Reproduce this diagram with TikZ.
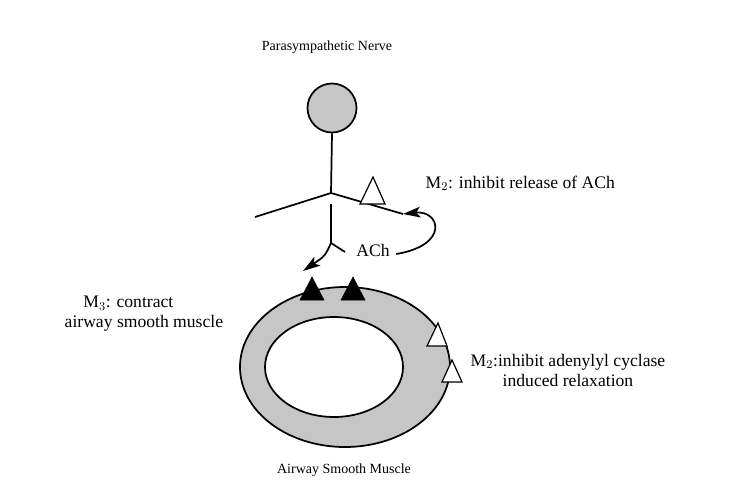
\documentclass[tikz,border=0pt]{standalone}
\usepackage{fontspec}
\setmainfont{Liberation Serif}
\usetikzlibrary{arrows.meta}
\begin{document}
\begin{tikzpicture}[x=0.75pt,y=-0.75pt,
  ln/.style={line width=1.3pt},
  wtri/.style={draw,fill=white,line width=0.9pt},
  btri/.style={draw,fill=black},
  big/.style={font=\fontsize{13.2}{15}\selectfont},
  small/.style={font=\fontsize{10.5}{12}\selectfont},
  arr/.style={ln,-{Stealth[length=13pt,width=8pt,inset=3pt]}}]
\useasboundingbox (0,0) rectangle (756,500);
\fill[gray!45] (345,367) ellipse [x radius=105,y radius=80];
\draw[ln] (345,367) ellipse [x radius=105,y radius=80];
\draw[ln,fill=white] (334,367) ellipse [x radius=69,y radius=50];
\node[small] (title) at (327,47) {Parasympathetic Nerve};
\node[draw,ln,circle,fill=gray!45,minimum size=49pt*0.75,inner sep=0] (cell) at (332,108) {};
\coordinate (j) at (331,193);
\coordinate (l) at (255,217);
\coordinate (r) at (403,214);
\coordinate (b) at (331,243);
\coordinate (f) at (345,252);
\coordinate (t1) at (303,271);
\draw[ln] (cell.south) -- (j);
\draw[ln] (l) -- (j) -- (r);
\draw[ln] (331,204) -- (b) -- (f);
\draw[arr] (b) .. controls (325,256) .. (t1);
\draw[wtri] (373,177) -- (385,204) -- (360,204) -- cycle;
\node[big] (ach) at (373,250) {ACh};
\draw[arr] (ach.east) ++(2,4) coordinate (s) .. controls (450,245) and (440,210) .. (r);
\node[big,anchor=west] (m2a) at (421,183) {M$_2$: inhibit release of ACh};
\draw[btri] (312,277) -- (324,300) -- (300,300) -- cycle;
\draw[btri] (353,277) -- (365,300) -- (341,300) -- cycle;
\draw[wtri] (438,323) -- (447,346) -- (427,346) -- cycle;
\draw[wtri] (452,360) -- (462,382) -- (442,382) -- cycle;
\node[big,align=left,anchor=west] (m3) at (60,314) {\hspace*{14pt}M$_3$: contract\\airway smooth muscle};
\node[big,align=center,anchor=west] (m2b) at (466,370) {M$_2$:inhibit adenylyl cyclase\\induced relaxation};
\node[small] (asm) at (344,470) {Airway Smooth Muscle};
\end{tikzpicture}
\end{document}
